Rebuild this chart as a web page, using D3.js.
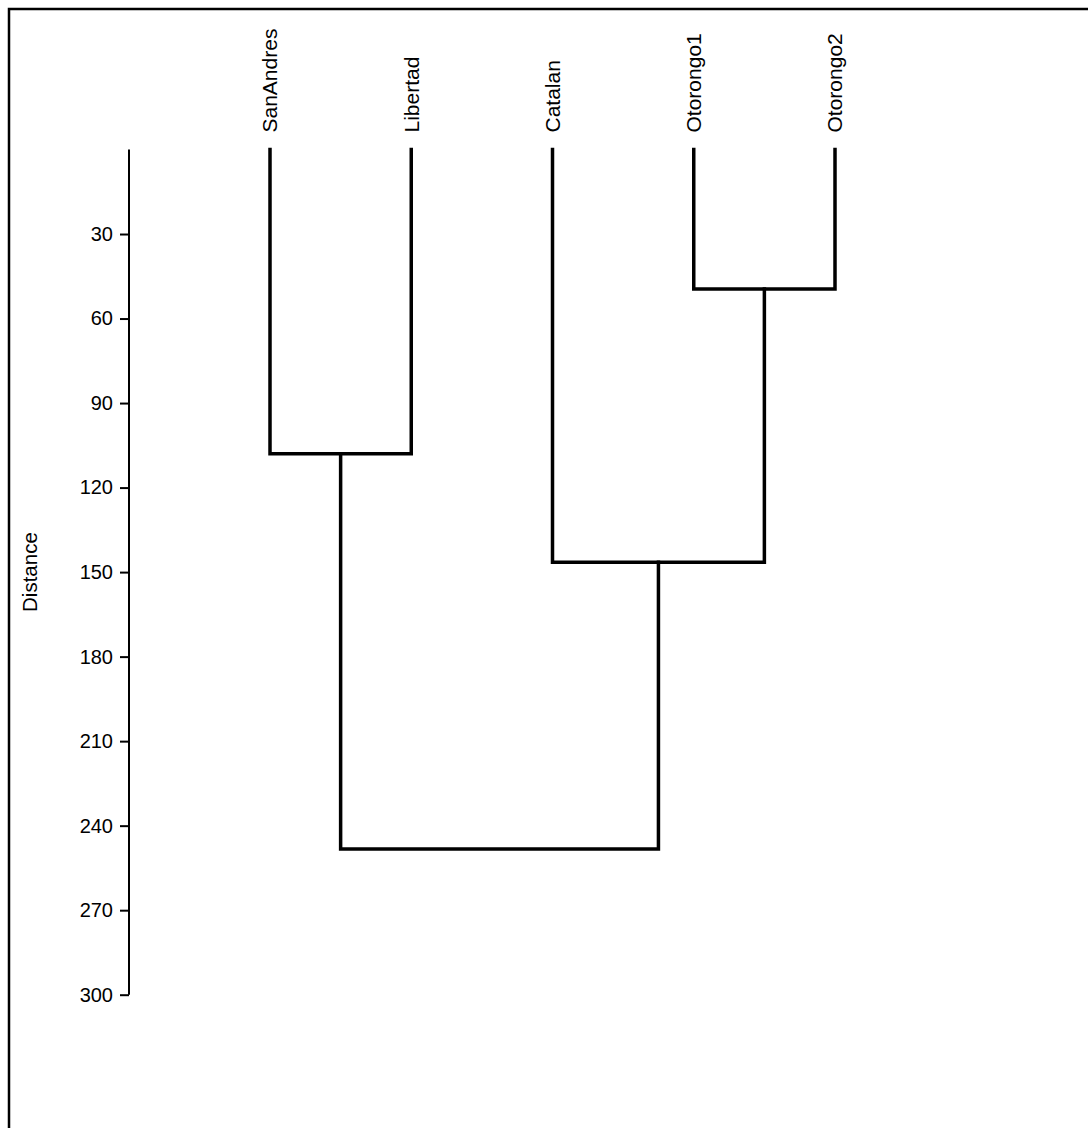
<!DOCTYPE html>
<html><head><meta charset="utf-8">
<script src="https://cdn.jsdelivr.net/npm/d3@7"></script>
<style>html,body{margin:0;padding:0;background:#fff;}svg{display:block;}</style>
</head><body>
<svg id="c" width="1088" height="1128"></svg>
<script>
// Leaves (in display order)
const leaves = ["SanAndres", "Libertad", "Catalan", "Otorongo1", "Otorongo2"];
// Merges (hclust style: negative = leaf index (1-based), positive = earlier merge step)
const mergeLeft = [-4, -1, -3, 2];
const mergeRight = [-5, -2, 1, 3];
const mergeHeight = [49.5, 108, 146.5, 248.3];
const tickValues = [30, 60, 90, 120, 150, 180, 210, 240, 270, 300];
const axisTitle = "Distance";

const svg = d3.select("#c");
const font = "'Liberation Sans', Arial, sans-serif";

// frame
svg.append("rect").attr("x", 9).attr("y", 9).attr("width", 1200).attr("height", 1300)
  .attr("fill", "none").attr("stroke", "#000").attr("stroke-width", 2.5);

const x = d3.scalePoint().domain(leaves).range([270, 835]);
const y = d3.scaleLinear().domain([0, 300]).range([149.5, 994.7]);

const nodes = [];
function pos(id) {
  if (id < 0) return { x: x(leaves[-id - 1]), h: 0 };
  return nodes[id - 1];
}
const g = svg.append("g").attr("fill", "none").attr("stroke", "#000").attr("stroke-width", 3.5)
  .attr("stroke-linecap", "square");
mergeHeight.forEach((h, i) => {
  const a = pos(mergeLeft[i]), b = pos(mergeRight[i]);
  const node = { x: (a.x + b.x) / 2, h: h };
  nodes.push(node);
  const p = d3.path();
  p.moveTo(a.x, y(a.h)); p.lineTo(a.x, y(h)); p.lineTo(b.x, y(h)); p.lineTo(b.x, y(b.h));
  g.append("path").attr("d", p.toString()).attr("stroke-linejoin", "miter");
});

// leaf labels
svg.append("g").selectAll("text").data(leaves).join("text")
  .attr("transform", d => `translate(${x(d)},${y(0) - 17}) rotate(-90)`)
  .attr("text-anchor", "start")
  .attr("dy", "0.35em")
  .attr("font-family", font).attr("font-size", 21).attr("fill", "#000")
  .text(d => d);

// axis
const axis = d3.axisLeft(y).tickValues(tickValues).tickSize(9).tickPadding(7).tickSizeOuter(0);
const ag = svg.append("g").attr("transform", "translate(129,0)").call(axis);
ag.select(".domain").attr("stroke", "#000").attr("stroke-width", 2)
  .attr("d", `M0,${y(0)}V${y(300)}`);
ag.selectAll(".tick line").attr("stroke", "#000").attr("stroke-width", 2);
ag.selectAll(".tick text").attr("font-family", font).attr("font-size", 20).attr("fill", "#000");

svg.append("text")
  .attr("transform", `translate(37,${y(150)}) rotate(-90)`)
  .attr("text-anchor", "middle")
  .attr("font-family", font).attr("font-size", 20.5).attr("fill", "#000")
  .text(axisTitle);
</script>
</body></html>
